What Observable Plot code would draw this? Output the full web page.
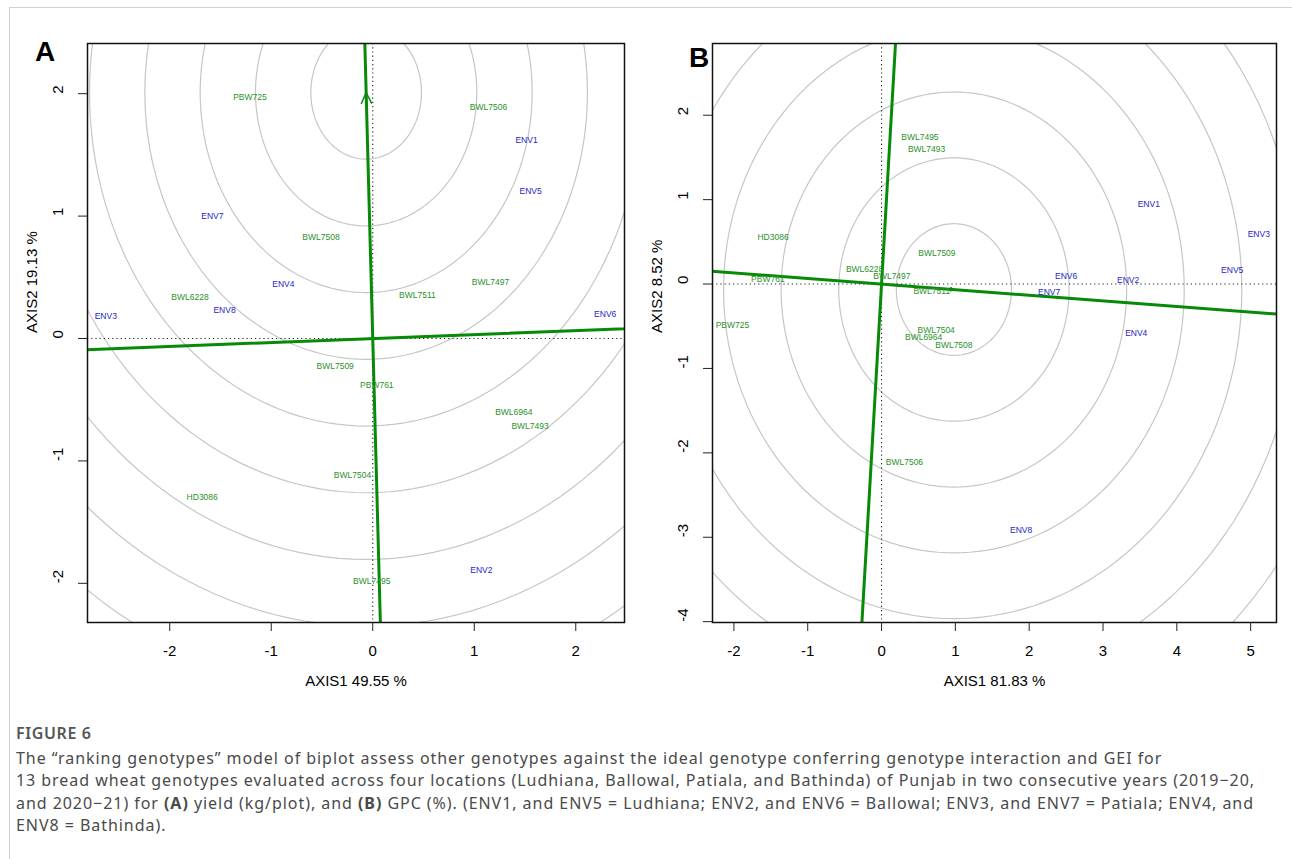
<!DOCTYPE html>
<html>
<head>
<meta charset="utf-8">
<script src="https://cdn.jsdelivr.net/npm/d3@7"></script>
<script src="https://cdn.jsdelivr.net/npm/@observablehq/plot@0.6"></script>
<style>
  html, body { margin: 0; padding: 0; background: #fff; }
  #page { position: relative; width: 1292px; height: 859px; overflow: hidden; background: #fff; }
  #frameline { position: absolute; left: 9px; top: 7px; width: 1400px; height: 900px; border-left: 1px solid #d0d0d0; border-top: 1px solid #d0d0d0; z-index: 0; }
  .panel { position: absolute; top: 0; z-index: 1; }
  .letter { position: absolute; z-index: 2; font-family: "Liberation Sans", Arial, sans-serif; font-weight: bold; font-size: 28px; line-height: 1; color: #000; }
  #caption { position: absolute; z-index: 2; left: 16px; top: 722px; width: 1275px; font-family: "Noto Sans", "Open Sans", sans-serif; color: #4a4a4a; font-size: 16px; letter-spacing: 0.95px; line-height: 22.5px; white-space: nowrap; }
  #caption .fig { font-weight: 600; font-size: 16px; letter-spacing: 0.6px; color: #555; margin-bottom: 2px; }
</style>
</head>
<body>
<div id="page">
  <div id="frameline"></div>
  <div id="panelA" class="panel" style="left:0px;"></div>
  <div id="panelB" class="panel" style="left:625px;"></div>
  <div class="letter" style="left:35px; top:38px;">A</div>
  <div class="letter" style="left:689px; top:44px;">B</div>
  <div id="caption">
    <div class="fig">FIGURE 6</div>
    The “ranking genotypes” model of biplot assess other genotypes against the ideal genotype conferring genotype interaction and GEI for<br>
    13 bread wheat genotypes evaluated across four locations (Ludhiana, Ballowal, Patiala, and Bathinda) of Punjab in two consecutive years (2019−20,<br>
    and 2020−21) for <b>(A)</b> yield (kg/plot), and <b>(B)</b> GPC (%). (ENV1, and ENV5 = Ludhiana; ENV2, and ENV6 = Ballowal; ENV3, and ENV7 = Patiala; ENV4, and<br>
    ENV8 = Bathinda).
  </div>
</div>
<script>
// ---------- Panel A data (yield) ----------
const genoNamesA = ["PBW725","BWL7506","BWL7508","BWL6228","BWL7511","BWL7497","BWL7509","PBW761","BWL6964","BWL7493","BWL7504","HD3086","BWL7495"];
const genoXA = [-1.21, 1.14, -0.51, -1.80, 0.44, 1.16, -0.37, 0.04, 1.39, 1.55, -0.20, -1.68, -0.01];
const genoYA = [1.97, 1.89, 0.83, 0.34, 0.355, 0.46, -0.23, -0.385, -0.60, -0.72, -1.12, -1.30, -1.98];
const envNamesA = ["ENV1","ENV2","ENV3","ENV4","ENV5","ENV6","ENV7","ENV8"];
const envXA = [1.515, 1.07, -2.63, -0.88, 1.555, 2.29, -1.58, -1.46];
const envYA = [1.62, -1.89, 0.18, 0.445, 1.205, 0.20, 1.0, 0.23];
const idealA = [-0.065, 2.01];
const ringsA = [0.545, 1.09, 1.635, 2.18, 2.725, 3.27, 3.815, 4.36, 4.905, 5.45];
const xTicksA = [-2, -1, 0, 1, 2];
const yTicksA = [-2, -1, 0, 1, 2];
const xDomainA = [-2.81, 2.48];
const yDomainA = [-2.32, 2.41];

// ---------- Panel B data (GPC) ----------
const genoNamesB = ["BWL7495","BWL7493","HD3086","BWL7509","BWL6228","BWL7497","PBW761","BWL7511","PBW725","BWL7504","BWL6964","BWL7508","BWL7506"];
const genoXB = [0.52, 0.61, -1.47, 0.75, -0.23, 0.14, -1.54, 0.68, -2.02, 0.74, 0.57, 0.98, 0.31];
const genoYB = [1.74, 1.60, 0.55, 0.37, 0.18, 0.09, 0.055, -0.09, -0.49, -0.55, -0.625, -0.73, -2.11];
const envNamesB = ["ENV1","ENV2","ENV3","ENV4","ENV5","ENV6","ENV7","ENV8"];
const envXB = [3.62, 3.34, 5.11, 3.45, 4.75, 2.50, 2.27, 1.89];
const envYB = [0.94, 0.047, 0.59, -0.58, 0.165, 0.095, -0.10, -2.92];
const idealB = [0.98, -0.065];
const ringsB = [0.78, 1.56, 2.34, 3.12, 3.90, 4.68, 5.46, 6.24];
const xTicksB = [-2, -1, 0, 1, 2, 3, 4, 5];
const yTicksB = [-4, -3, -2, -1, 0, 1, 2];
const xDomainB = [-2.29, 5.35];
const yDomainB = [-4.01, 2.85];

const GREEN_LINE = "#078a07";
const GREEN_TEXT = "#2a912a";
const BLUE_TEXT = "#2424c8";
const RING = "#c6c6c6";
const FONT = "Liberation Sans, Arial, sans-serif";

function ringPoints(center, radii) {
  const pts = [];
  radii.forEach((r, i) => {
    for (let k = 0; k <= 360; k += 2) {
      const a = k * Math.PI / 180;
      pts.push({ring: i, x: center[0] + r * Math.cos(a), y: center[1] + r * Math.sin(a)});
    }
  });
  return pts;
}

function makePanel(cfg) {
  const [cx, cy] = cfg.ideal;
  const len = 20;
  const norm = Math.hypot(cx, cy);
  const ux = cx / norm, uy = cy / norm;
  const aecLine = [{x: -len * ux, y: -len * uy}, {x: len * ux, y: len * uy}];
  const perpLine = [{x: -len * uy, y: len * ux}, {x: len * uy, y: -len * ux}];
  const genos = cfg.genoNames.map((n, i) => ({name: n, x: cfg.genoX[i], y: cfg.genoY[i]}));
  const envs = cfg.envNames.map((n, i) => ({name: n, x: cfg.envX[i], y: cfg.envY[i]}));
  return Plot.plot({
    width: cfg.width,
    height: 700,
    marginLeft: cfg.marginLeft,
    marginRight: cfg.marginRight,
    marginTop: 43,
    marginBottom: 78,
    style: {fontFamily: FONT, background: "transparent", overflow: "visible"},
    x: {domain: cfg.xDomain},
    y: {domain: cfg.yDomain},
    marks: [
      Plot.line(ringPoints(cfg.ideal, cfg.rings), {x: "x", y: "y", z: "ring", stroke: RING, strokeWidth: 1.2, clip: true}),
      Plot.ruleX([0], {stroke: "#222", strokeDasharray: "1.2,3", strokeWidth: 1.1}),
      Plot.ruleY([0], {stroke: "#222", strokeDasharray: "1.2,3", strokeWidth: 1.1}),
      Plot.line(aecLine, {x: "x", y: "y", stroke: GREEN_LINE, strokeWidth: 3, clip: true}),
      Plot.line(perpLine, {x: "x", y: "y", stroke: GREEN_LINE, strokeWidth: 3, clip: true}),
      Plot.arrow([{x1: cx * 0.85, y1: cy * 0.85, x2: cx, y2: cy}], {x1: "x1", y1: "y1", x2: "x2", y2: "y2", stroke: GREEN_LINE, strokeWidth: 1.5, headLength: 12, headAngle: 50}),
      Plot.text(genos, {x: "x", y: "y", text: "name", fill: GREEN_TEXT, fontSize: 8.5, fontFamily: FONT}),
      Plot.text(envs, {x: "x", y: "y", text: "name", fill: BLUE_TEXT, fontSize: 8.5, fontFamily: FONT}),
      Plot.frame({stroke: "#111", strokeWidth: 1.5}),
      Plot.axisX(cfg.xTicks, {tickSize: 9, tickFormat: () => "", label: null, stroke: "#222"}),
      Plot.axisY(cfg.yTicks, {tickSize: 9, tickFormat: () => "", label: null, stroke: "#222"}),
      Plot.text(cfg.xTicks, {x: d => d, text: d => String(d), frameAnchor: "bottom", dy: 33, fontSize: 15, fill: "#000", fontFamily: FONT}),
      Plot.text(cfg.yTicks, {y: d => d, text: d => String(d), frameAnchor: "left", dx: -29, rotate: -90, fontSize: 15, fill: "#000", fontFamily: FONT}),
      Plot.text([cfg.xLabel], {text: d => d, frameAnchor: "bottom", dy: 63, fontSize: 15, fill: "#000", fontFamily: FONT}),
      Plot.text([cfg.yLabel], {text: d => d, frameAnchor: "left", dx: -55, rotate: -90, fontSize: 15, fill: "#000", fontFamily: FONT})
    ]
  });
}

document.getElementById("panelA").appendChild(makePanel({
  width: 640, marginLeft: 87, marginRight: 16,
  xDomain: xDomainA, yDomain: yDomainA, xTicks: xTicksA, yTicks: yTicksA,
  ideal: idealA, rings: ringsA,
  genoNames: genoNamesA, genoX: genoXA, genoY: genoYA,
  envNames: envNamesA, envX: envXA, envY: envYA,
  xLabel: "AXIS1 49.55 %", yLabel: "AXIS2 19.13 %"
}));
document.getElementById("panelB").appendChild(makePanel({
  width: 667, marginLeft: 87, marginRight: 16,
  xDomain: xDomainB, yDomain: yDomainB, xTicks: xTicksB, yTicks: yTicksB,
  ideal: idealB, rings: ringsB,
  genoNames: genoNamesB, genoX: genoXB, genoY: genoYB,
  envNames: envNamesB, envX: envXB, envY: envYB,
  xLabel: "AXIS1 81.83 %", yLabel: "AXIS2 8.52 %"
}));
</script>
</body>
</html>
